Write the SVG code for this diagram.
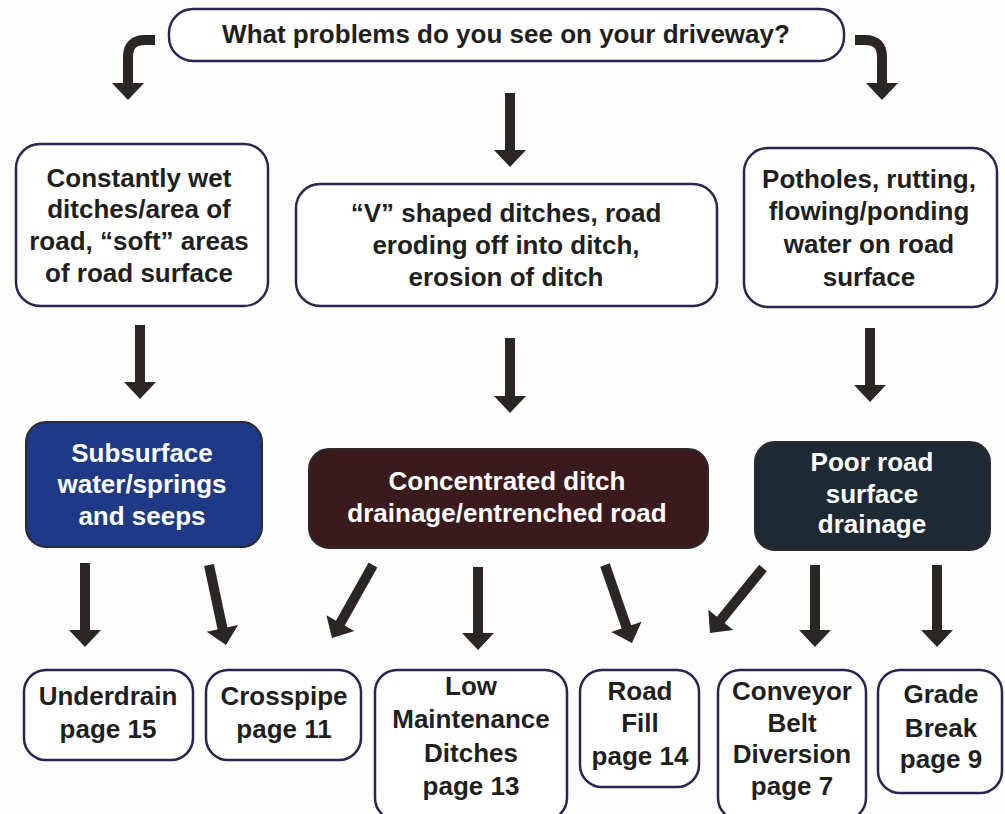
<svg xmlns="http://www.w3.org/2000/svg" width="1005" height="814" viewBox="0 0 1005 814">
<defs>
<style>
.box{fill:#ffffff;stroke:#2e2250;stroke-width:2.5}
.dark{stroke:#2a2a2a;stroke-width:2}
.t{font-family:"Liberation Sans",Arial,sans-serif;font-weight:bold;font-size:26px;fill:#1f1f1f;text-anchor:middle}
.w{fill:#ffffff}
.arr{fill:none;stroke:#2b2624;stroke-width:10;marker-end:url(#ah)}
</style>
<marker id="ah" markerUnits="userSpaceOnUse" markerWidth="18" markerHeight="32" refX="7" refY="16" orient="auto" overflow="visible">
<path d="M0,0 L17,16 L0,32 Z" fill="#2b2624"/>
</marker>
</defs>
<rect width="1005" height="814" fill="#fdfdfd"/>

<g id="connectors">
<path class="arr" d="M155,40 L145,40 Q128,40 128,57 L128,90"/>
<path class="arr" d="M855,40 L865,40 Q882,40 882,57 L882,90"/>
<path class="arr" d="M510,93 L510,157"/>
<path class="arr" d="M140,325 L140,389"/>
<path class="arr" d="M510,338 L510,403"/>
<path class="arr" d="M870,328 L870,392"/>
<path class="arr" d="M85,563 L85,637"/>
<path class="arr" d="M209,565 L223.9,635.2"/>
<path class="arr" d="M373,565 L336.9,629.3"/>
<path class="arr" d="M478,567 L478,640"/>
<path class="arr" d="M605,565 L628.7,633.5"/>
<path class="arr" d="M763,568 L716.3,625.3"/>
<path class="arr" d="M815,565 L815,637"/>
<path class="arr" d="M937,565 L937,637"/>
</g>

<g id="question">
<rect class="box" x="169" y="9" width="675" height="52" rx="24"/>
<text class="t" x="506" y="43">What problems do you see on your driveway?</text>
</g>

<g id="wet">
<rect class="box" x="16" y="144" width="252" height="162" rx="24"/>
<text class="t" x="139" y="187">Constantly wet</text>
<text class="t" x="139" y="218">ditches/area of</text>
<text class="t" x="139" y="250">road, “soft” areas</text>
<text class="t" x="139" y="282">of road surface</text>
</g>

<g id="vditch">
<rect class="box" x="296" y="184" width="421" height="122" rx="24"/>
<text class="t" x="506" y="222">“V” shaped ditches, road</text>
<text class="t" x="506" y="254">eroding off into ditch,</text>
<text class="t" x="506" y="286">erosion of ditch</text>
</g>

<g id="potholes">
<rect class="box" x="744" y="148" width="253" height="159" rx="24"/>
<text class="t" x="869" y="188">Potholes, rutting,</text>
<text class="t" x="869" y="220">flowing/ponding</text>
<text class="t" x="869" y="253">water on road</text>
<text class="t" x="869" y="286">surface</text>
</g>

<g id="subsurface">
<rect class="dark" x="26" y="422" width="236" height="125" rx="20" fill="#1e3a86"/>
<text class="t w" x="142" y="462">Subsurface</text>
<text class="t w" x="142" y="493">water/springs</text>
<text class="t w" x="142" y="525">and seeps</text>
</g>

<g id="concentrated">
<rect class="dark" x="309" y="449" width="399" height="99" rx="20" fill="#3a1a1c"/>
<text class="t w" x="507" y="490">Concentrated ditch</text>
<text class="t w" x="507" y="522">drainage/entrenched road</text>
</g>

<g id="poorroad">
<rect class="dark" x="755" y="442" width="235" height="108" rx="20" fill="#1e2a33"/>
<text class="t w" x="872" y="471">Poor road</text>
<text class="t w" x="872" y="503">surface</text>
<text class="t w" x="872" y="533">drainage</text>
</g>

<g id="underdrain">
<rect class="box" x="24" y="670" width="169" height="90" rx="22"/>
<text class="t" x="108" y="705">Underdrain</text>
<text class="t" x="108" y="738">page 15</text>
</g>

<g id="crosspipe">
<rect class="box" x="206" y="670" width="155" height="90" rx="22"/>
<text class="t" x="284" y="705">Crosspipe</text>
<text class="t" x="284" y="738">page 11</text>
</g>

<g id="lowmaint">
<rect class="box" x="375" y="670" width="192" height="150" rx="22"/>
<text class="t" x="471" y="695">Low</text>
<text class="t" x="471" y="728">Maintenance</text>
<text class="t" x="471" y="762">Ditches</text>
<text class="t" x="471" y="795">page 13</text>
</g>

<g id="roadfill">
<rect class="box" x="580" y="670" width="119" height="117" rx="22"/>
<text class="t" x="640" y="700">Road</text>
<text class="t" x="640" y="732">Fill</text>
<text class="t" x="640" y="765">page 14</text>
</g>

<g id="conveyor">
<rect class="box" x="718" y="670" width="148" height="150" rx="22"/>
<text class="t" x="792" y="700">Conveyor</text>
<text class="t" x="792" y="732">Belt</text>
<text class="t" x="792" y="763">Diversion</text>
<text class="t" x="792" y="795">page 7</text>
</g>

<g id="gradebreak">
<rect class="box" x="878" y="670" width="124" height="123" rx="22"/>
<text class="t" x="941" y="703">Grade</text>
<text class="t" x="941" y="737">Break</text>
<text class="t" x="941" y="768">page 9</text>
</g>
</svg>
